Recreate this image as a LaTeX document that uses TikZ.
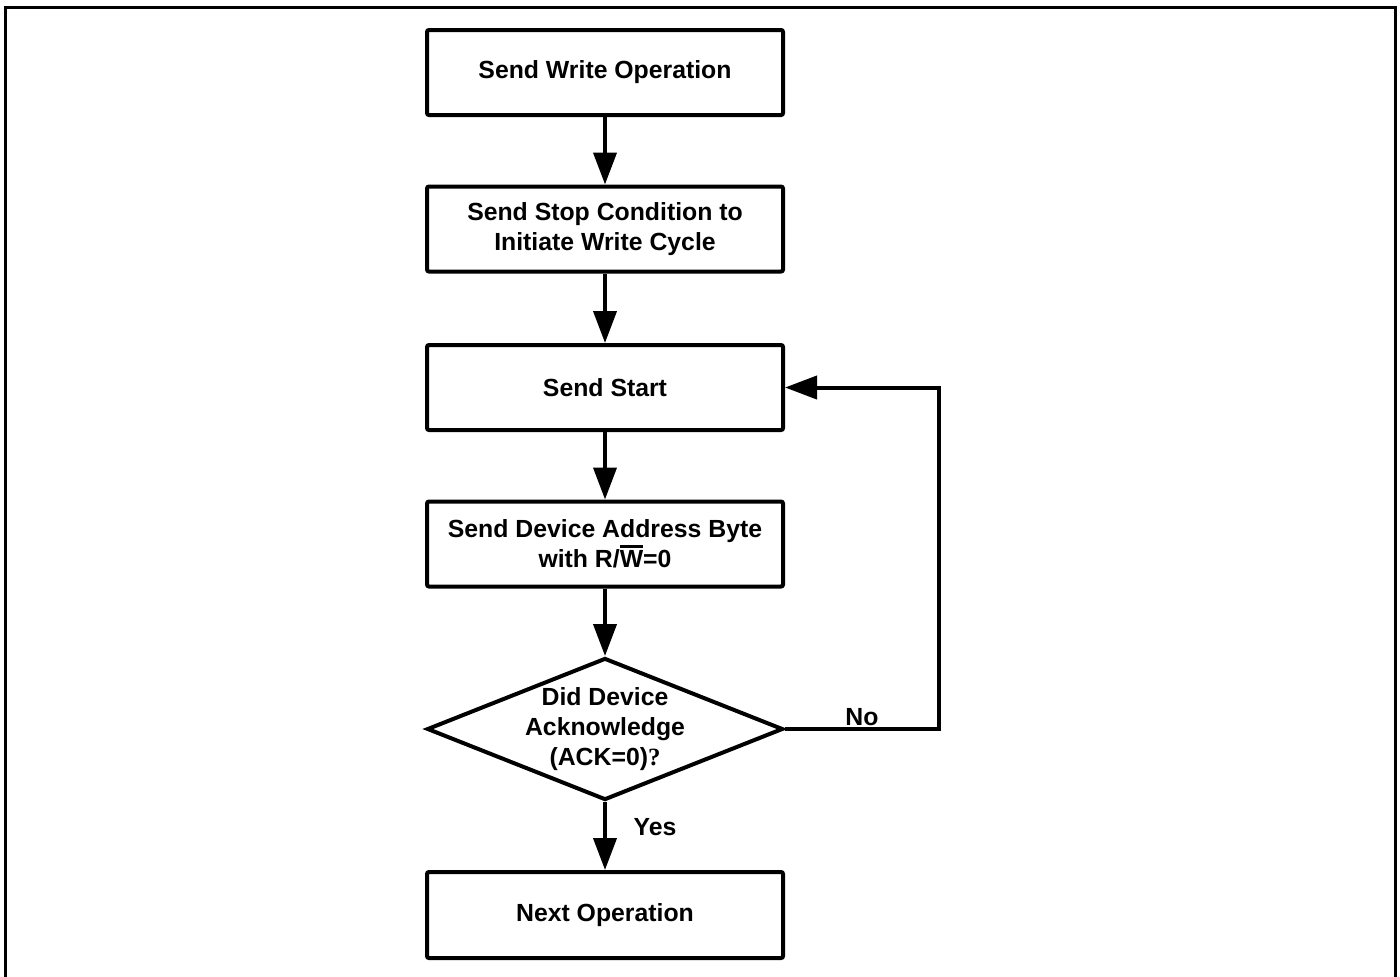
\documentclass[tikz,border=0pt]{standalone}
\usepackage{fontspec}
\setmainfont{Liberation Sans}
\newfontfamily\qfont{Liberation Serif}
\usetikzlibrary{arrows.meta,shapes.geometric}
\newcommand\myovl[1]{\setbox0\hbox{#1}\rlap{\rule[\dimexpr\ht0+1.1pt\relax]{\wd0}{1.7pt}}\box0}
\tikzset{
  px/.style={x=0.5pt,y=-0.5pt},
  stepbox/.style={draw,line width=2pt,rounded corners=1pt,minimum width=178pt,minimum height=42.5pt,inner sep=0pt,align=center,font=\fontsize{12.4}{15}\selectfont\bfseries},
  dia/.style={draw,diamond,line width=2pt,minimum width=178pt,minimum height=71pt,inner sep=0pt},
  txt/.style={align=center,inner sep=0pt,font=\fontsize{12.4}{15}\selectfont\bfseries},
  arr/.style={line width=2pt,-{Triangle[length=16pt,width=11.5pt]}},
  frame/.style={line width=1.5pt}
}
\begin{document}
\begin{tikzpicture}[px]
\useasboundingbox (0,0) rectangle (1400,976);
\draw[frame] (5,990) -- (5,7) -- (1395,7) -- (1395,990);
\node[stepbox] (b1) at (605,72.5) {Send Write Operation};
\node[stepbox] (b2) at (605,229) {Send Stop Condition to\\Initiate Write Cycle};
\node[stepbox] (b3) at (605,387.5) {Send Start};
\node[stepbox] (b4) at (605,544) {Send Device Address Byte\\with R/\myovl{W}=0};
\node[dia] (d) at (605,729) {};
\node[txt] (dt) at (605,729) {Did Device\\Acknowledge\\(ACK=0){\qfont ?}};
\node[stepbox,minimum height=43pt] (b5) at (605,915) {Next Operation};
\coordinate (fbx) at (939,0);
\node[txt] (no) at (862,717) {No};
\node[txt] (yes) at (655,827) {Yes};
\draw[arr] (b1.south) -- (b2.north);
\draw[arr] (b2.south) -- (b3.north);
\draw[arr] (b3.south) -- (b4.north);
\draw[arr] (b4.south) -- (d.north);
\draw[arr] (d.south) -- (b5.north);
\draw[arr] (d.east) -- (d.east -| fbx) -- (fbx |- b3.east) -- (b3.east);
\end{tikzpicture}
\end{document}
